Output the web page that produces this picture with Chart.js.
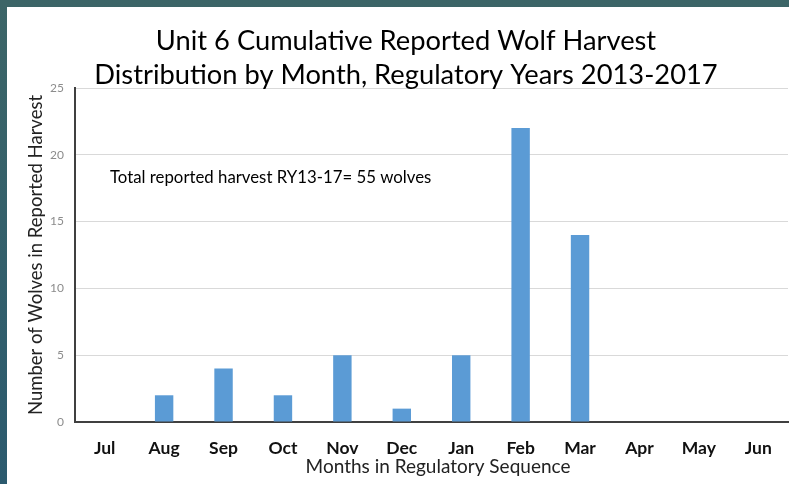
<!DOCTYPE html>
<html>
<head>
<meta charset="utf-8">
<script src="https://cdn.jsdelivr.net/npm/chart.js@4/dist/chart.umd.min.js"></script>
<style>
  html, body { margin: 0; padding: 0; }
  body { width: 789px; height: 484px; overflow: hidden; background: linear-gradient(#3c6567, #2b5a6e); position: relative; }
  #wrap { position: absolute; left: 7px; top: 7px; width: 782px; height: 477px; background: #fff; }
</style>
</head>
<body>
<div id="wrap"><canvas id="harvestChart" width="782" height="477"></canvas></div>
<script>
const months = ["Jul", "Aug", "Sep", "Oct", "Nov", "Dec", "Jan", "Feb", "Mar", "Apr", "May", "Jun"];
const wolves = [0, 2, 4, 2, 5, 1, 5, 22, 14, 0, 0, 0];
const yTicks = [0, 5, 10, 15, 20, 25];
const titleLines = ["Unit 6 Cumulative Reported Wolf Harvest", "Distribution by Month, Regulatory Years 2013-2017"];
const note = "Total reported harvest RY13-17= 55 wolves";
const xTitle = "Months in Regulatory Sequence";
const yTitle = "Number of Wolves in Reported Harvest";

const FONT = "Lato, 'Open Sans', sans-serif";

// title, note and x axis title drawn by hand
const textPlugin = {
  id: "texts",
  afterDraw(chart) {
    const ctx = chart.ctx, area = chart.chartArea;
    ctx.save();
    ctx.fillStyle = "#000";
    ctx.textAlign = "center"; ctx.textBaseline = "middle";
    ctx.font = "27.3px " + FONT;
    ctx.fillText(titleLines[0], 399, 34);
    ctx.fillText(titleLines[1], 399, 68);
    ctx.textAlign = "left";
    ctx.font = "16.8px " + FONT;
    ctx.fillText(note, area.left + 35, 171);
    ctx.textAlign = "center";
    ctx.font = "19px " + FONT;
    ctx.fillStyle = "#222";
    ctx.fillText(xTitle, 431, 460);
    ctx.restore();
  }
};

new Chart(document.getElementById("harvestChart").getContext("2d"), {
  type: "bar",
  data: { labels: months, datasets: [{ data: wolves, backgroundColor: "#5b9bd5", categoryPercentage: 1, barPercentage: 0.31 }] },
  options: {
    responsive: false, animation: false,
    layout: { padding: { top: 81, right: 1, left: 0, bottom: 0 } },
    plugins: { legend: { display: false }, tooltip: { enabled: false } },
    scales: {
      x: {
        grid: { display: false, drawTicks: false },
        border: { color: "#404040", width: 2 },
        ticks: { color: "#111", font: { family: FONT, size: 17.5, weight: "bold" }, padding: 16 },
        afterFit(s) { s.height = 62; }
      },
      y: {
        min: 0, max: 25,
        afterBuildTicks(s) { s.ticks = yTicks.map(v => ({ value: v })); },
        grid: { color: "#d9d9d9", drawTicks: false },
        border: { color: "#404040", width: 2 },
        ticks: { color: "#8c8c8c", font: { family: FONT, size: 12 }, padding: 11 },
        title: { display: true, text: yTitle, color: "#222", font: { family: FONT, size: 18.5 }, padding: { top: 18, bottom: 0 } },
        afterFit(s) { s.width = 68; }
      }
    }
  },
  plugins: [textPlugin]
});
</script>
</body>
</html>
